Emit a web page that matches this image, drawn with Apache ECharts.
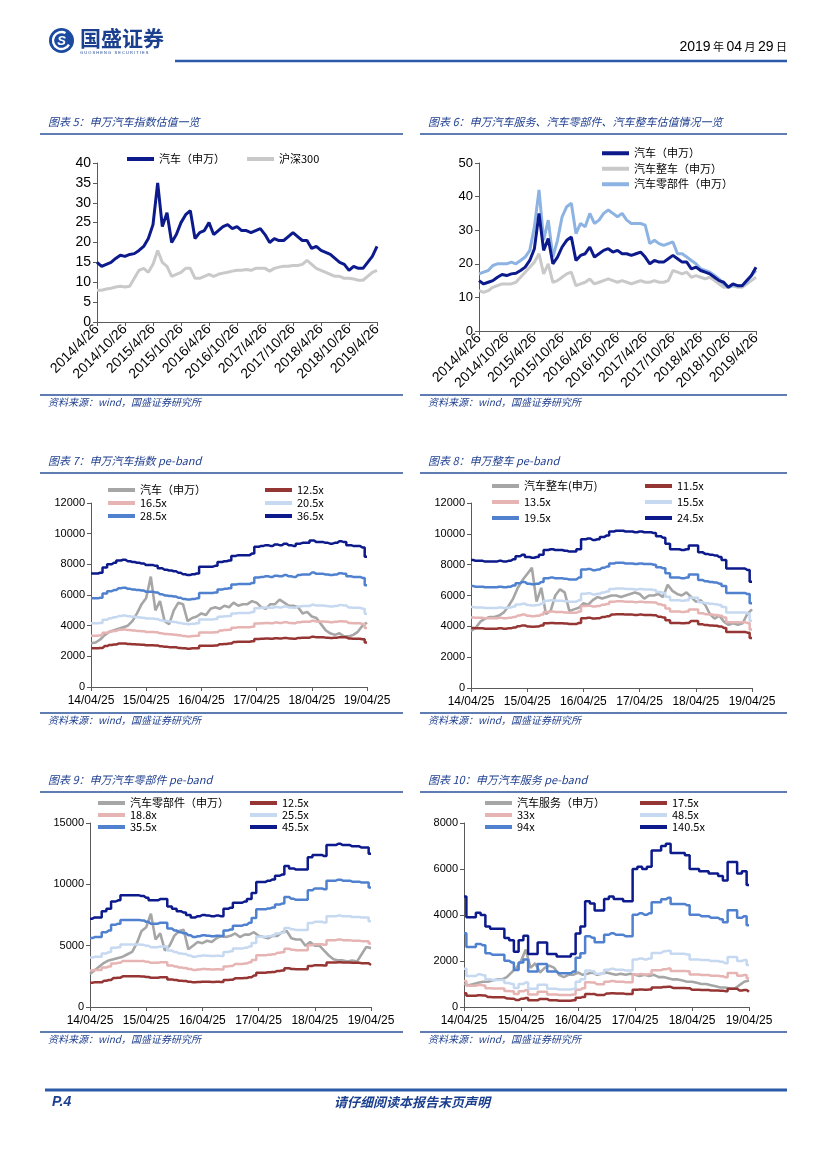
<!DOCTYPE html>
<html><head><meta charset="utf-8">
<script src="https://cdn.jsdelivr.net/npm/echarts@6/dist/echarts.min.js"></script>
<style>html,body{margin:0;padding:0;background:#fff}#c{width:827px;height:1169px}</style>
</head><body><div id="c"></div>
<script>
// ---------- categories (monthly, 2014/04 .. 2019/04) ----------
const monthsLong = [];
const monthsShort = [];
for (let i = 0; i < 61; i++) {
  const y = 2014 + Math.floor((3 + i) / 12), m = (3 + i) % 12 + 1;
  monthsLong.push(y + '/' + m + '/26');
  monthsShort.push(String(y).slice(2) + '/' + String(m).padStart(2, '0') + '/25');
}

// ---------- chart 5 / 6 : PE (TTM) ----------
const peAuto = [15,14,14.5,15,16,16.8,16.5,17,17.2,18, 19,21,24.5,35,24,27.5,20,22,25,27, 28,21,22.5,23,25,22,23,24,24.5,23.5, 24,23,23,22.5,23,23.5,22,20,21,20.5, 20.5,21.5,22.5,21.5,20.5,20.5,18.5,19,18,17.5, 17,16,15,14.5,13,14,13.5,13.5,15,16.5, 19];
const peHs300 = [8,8,8.3,8.5,8.8,9,8.8,9,11,13, 13.5,12.5,14.5,18,15,14,11.5,12,12.5,13.5, 13.5,11,11,11.5,12,11.5,12,12.3,12.5,12.8, 13,13,13.2,13,13.5,13.5,13.5,12.8,13.5,13.8, 14,14,14.2,14.2,14.5,15.5,14.5,13.5,13,12.5, 12,11.5,11.5,11,11,10.8,10.5,10.5,11.5,12.5, 13];
const peWhole = [12,11.5,12,13,13.5,14,14,14,14.5,16, 17.5,19,20.5,23,17,20,14.5,15,16,17, 17.5,13.5,14,14.5,15.5,14,14.5,15,15.5,15, 14.5,15,14.5,14,14.5,15,14.5,14.5,15,14.5, 14.5,15,18,17.5,17,17.5,16,16.5,16,15.5, 16,15,14,13,13,13.5,13,13,14,15, 16];
const peParts = [17,17.5,18,19.5,20,20,20,20.5,20,21, 22,24,31,42,27,33,22,27,34,37, 38,29,32,31,35,32,33,35,36,35, 34,35,33,32,32,32,31.5,26,27,26, 25.5,26,26.5,23,23,22,21,20,18.5,18, 17.5,16.5,15.5,14,13,13.5,13.5,13.5,14.5,16.5, 18];

// ---------- chart 7 : 申万汽车 pe-band ----------
const c7Index = [2850,2900,3100,3400,3600,3700,3800,3900,4000,4300, 4800,5400,5800,7200,5000,5600,4300,4100,5000,5500, 5400,4300,4500,4600,4800,4700,5100,5200,5100,5300, 5200,5500,5300,5400,5400,5600,5500,5200,5100,5400, 5400,5700,5500,5300,5300,5200,4800,4900,4600,4500, 4100,3700,3500,3400,3500,3300,3300,3400,3600,4000, 4200];
const c7B125 = [2530,2530,2550,2670,2740,2770,2830,2840,2810,2790, 2770,2760,2720,2720,2710,2650,2620,2600,2590,2550, 2520,2500,2520,2530,2690,2690,2690,2710,2790,2810, 2830,2930,2950,2950,2950,2980,3130,3150,3170,3150, 3180,3170,3200,3170,3150,3200,3220,3220,3270,3240, 3240,3220,3200,3220,3250,3240,3170,3150,3150,3120, 2910];
const c7B165 = [3350,3350,3370,3530,3620,3660,3730,3750,3710,3690, 3660,3640,3590,3590,3570,3500,3460,3440,3410,3370, 3320,3300,3320,3350,3550,3550,3550,3570,3690,3710, 3730,3870,3890,3890,3890,3930,4140,4160,4180,4160, 4200,4180,4230,4180,4160,4230,4250,4250,4320,4270, 4270,4250,4230,4250,4290,4270,4180,4160,4160,4110, 3840];
const c7B205 = [4160,4160,4180,4380,4490,4550,4630,4660,4610,4580, 4550,4520,4460,4460,4440,4350,4300,4270,4240,4180, 4130,4100,4130,4160,4410,4410,4410,4440,4580,4610, 4630,4800,4830,4830,4830,4890,5140,5170,5190,5170, 5220,5190,5250,5190,5170,5250,5280,5280,5360,5310, 5310,5280,5250,5280,5340,5310,5190,5170,5170,5110, 4770];
const c7B285 = [5780,5780,5820,6090,6250,6320,6440,6480,6400,6360, 6320,6290,6210,6210,6170,6050,5970,5930,5900,5820, 5740,5700,5740,5780,6130,6130,6130,6170,6360,6400, 6440,6680,6710,6710,6710,6790,7140,7180,7220,7180, 7260,7220,7300,7220,7180,7300,7340,7340,7460,7380, 7380,7340,7300,7340,7420,7380,7220,7180,7180,7110, 6640];
const c7B365 = [7400,7400,7450,7800,8000,8100,8250,8300,8200,8150, 8100,8050,7950,7950,7900,7750,7650,7600,7550,7450, 7350,7300,7350,7400,7850,7850,7850,7900,8150,8200, 8250,8550,8600,8600,8600,8700,9150,9200,9250,9200, 9300,9250,9350,9250,9200,9350,9400,9400,9550,9450, 9450,9400,9350,9400,9500,9450,9250,9200,9200,9100, 8500];

// ---------- chart 8 : 申万整车 pe-band ----------
const c8Index = [3700,3900,4300,4500,4600,4600,4700,4900,5300,5800, 6500,7000,7400,7800,5600,6500,4800,5000,6000,6400, 6200,5000,5100,5200,5500,5400,5700,5900,5800,5900, 6000,6000,5900,6000,6100,6200,6100,5800,6000,6000, 6100,5900,6700,6300,6100,6000,6200,5900,5600,5700, 5400,4800,4500,4700,4300,4100,4200,4100,4200,4800, 5100];
const c8B115 = [3900,3870,3870,3850,3850,3850,3870,3850,3870,3920, 4010,4060,3990,3970,3990,4060,4200,4220,4200,4200, 4180,4150,4150,4220,4530,4550,4510,4530,4600,4650, 4760,4790,4790,4760,4760,4740,4760,4740,4740,4720, 4620,4580,4390,4220,4220,4200,4220,4340,4340,4130, 4080,4060,4040,3990,3900,3640,3640,3640,3640,3590, 3240];
const c8B135 = [4570,4550,4550,4520,4520,4520,4550,4520,4550,4600, 4710,4770,4680,4660,4680,4770,4930,4960,4930,4930, 4900,4880,4880,4960,5320,5340,5290,5320,5400,5450, 5590,5620,5620,5590,5590,5570,5590,5570,5570,5540, 5430,5370,5150,4960,4960,4930,4960,5100,5100,4850, 4790,4770,4740,4680,4570,4270,4270,4270,4270,4220, 3800];
const c8B155 = [5250,5220,5220,5190,5190,5190,5220,5190,5220,5280, 5410,5470,5380,5350,5380,5470,5660,5690,5660,5660, 5630,5600,5600,5690,6110,6140,6070,6110,6200,6260, 6420,6450,6450,6420,6420,6390,6420,6390,6390,6360, 6230,6170,5920,5690,5690,5660,5690,5850,5850,5570, 5500,5470,5440,5380,5250,4900,4900,4900,4900,4840, 4370];
const c8B195 = [6610,6570,6570,6530,6530,6530,6570,6530,6570,6650, 6800,6880,6770,6730,6770,6880,7120,7160,7120,7120, 7080,7040,7040,7160,7680,7720,7640,7680,7800,7880, 8080,8120,8120,8080,8080,8040,8080,8040,8040,8000, 7840,7760,7440,7160,7160,7120,7160,7360,7360,7000, 6920,6880,6840,6770,6610,6170,6170,6170,6170,6090, 5490];
const c8B245 = [8300,8250,8250,8200,8200,8200,8250,8200,8250,8350, 8550,8650,8500,8450,8500,8650,8950,9000,8950,8950, 8900,8850,8850,9000,9650,9700,9600,9650,9800,9900, 10150,10200,10200,10150,10150,10100,10150,10100,10100,10050, 9850,9750,9350,9000,9000,8950,9000,9250,9250,8800, 8700,8650,8600,8500,8300,7750,7750,7750,7750,7650, 6900];

// ---------- chart 9 : 申万汽车零部件 pe-band ----------
const c9Index = [2700,3000,3300,3600,3800,3900,4000,4100,4300,4500, 5200,6200,6500,7600,5500,6000,4600,5000,5800,6200, 6300,4700,5000,5300,5200,5400,5300,5600,5800,5700, 5800,6000,5700,5900,5900,6100,5800,5700,5600,5800, 5800,6100,6200,5600,5500,5500,5000,5300,5000,5000, 4600,4200,3900,3800,3800,3700,3800,3700,4300,4900, 4800];
const c9B125 = [1980,2010,2010,2140,2200,2360,2390,2500,2500,2500, 2500,2490,2450,2390,2390,2420,2420,2250,2200,2140, 2120,2060,2010,2030,2060,2050,2030,2050,2030,2200, 2230,2340,2340,2360,2420,2560,2800,2800,2830,2860, 2940,2970,3160,3100,3080,3080,3080,3350,3410,3410, 3380,3630,3630,3650,3630,3630,3600,3600,3570,3570, 3430];
const c9B188 = [2980,3020,3020,3220,3310,3550,3600,3760,3760,3760, 3760,3740,3680,3600,3600,3640,3640,3390,3310,3220, 3180,3100,3020,3060,3100,3080,3060,3080,3060,3310, 3350,3510,3510,3550,3640,3840,4210,4210,4260,4300, 4420,4460,4750,4670,4630,4630,4630,5040,5120,5120, 5080,5450,5450,5500,5450,5450,5410,5410,5370,5370, 5170];
const c9B255 = [4030,4090,4090,4370,4480,4820,4880,5100,5100,5100, 5100,5070,4990,4880,4880,4930,4930,4600,4480,4370, 4320,4200,4090,4150,4200,4170,4150,4170,4150,4480, 4540,4760,4760,4820,4930,5210,5720,5720,5770,5830, 6000,6050,6440,6330,6280,6280,6280,6840,6950,6950, 6890,7400,7400,7450,7400,7400,7340,7340,7290,7290, 7000];
const c9B355 = [5620,5700,5700,6090,6240,6710,6790,7100,7100,7100, 7100,7060,6940,6790,6790,6870,6870,6400,6240,6090, 6010,5850,5700,5770,5850,5810,5770,5810,5770,6240, 6320,6630,6630,6710,6870,7260,7960,7960,8040,8110, 8350,8430,8970,8820,8740,8740,8740,9520,9670,9670, 9600,10300,10300,10380,10300,10300,10220,10220,10140,10140, 9750];
const c9B455 = [7200,7300,7300,7800,8000,8600,8700,9100,9100,9100, 9100,9050,8900,8700,8700,8800,8800,8200,8000,7800, 7700,7500,7300,7400,7500,7450,7400,7450,7400,8000, 8100,8500,8500,8600,8800,9300,10200,10200,10300,10400, 10700,10800,11500,11300,11200,11200,11200,12200,12400,12400, 12300,13200,13200,13300,13200,13200,13100,13100,13000,13000, 12500];

// ---------- chart 10 : 申万汽车服务 pe-band ----------
const c10Index = [1000,950,1000,1050,1100,1100,1150,1200,1200,1300, 1500,1700,2000,2500,1700,1900,1500,1700,1800,1700, 1400,1300,1400,1400,1500,1400,1450,1500,1400,1450, 1500,1450,1400,1450,1400,1450,1400,1350,1400,1350, 1400,1300,1300,1250,1200,1200,1150,1100,1100,1050, 1000,1000,950,900,850,850,800,800,950,1100, 1150];
const c10B175 = [600,490,490,510,500,440,420,420,420,370, 360,300,360,390,290,290,350,350,290,290, 270,270,270,290,400,440,570,560,520,520, 590,600,590,590,570,570,750,760,750,760, 850,850,870,880,830,830,830,820,750,750, 740,740,720,720,710,690,790,790,720,740, 660];
const c10B33 = [1130,920,920,960,940,820,800,800,800,700, 680,560,680,730,540,540,660,660,540,540, 520,520,520,540,750,820,1080,1060,990,990, 1100,1130,1100,1100,1080,1080,1410,1430,1410,1430, 1600,1600,1640,1670,1570,1570,1570,1550,1410,1410, 1390,1390,1360,1360,1340,1290,1480,1480,1360,1390, 1250];
const c10B485 = [1660,1350,1350,1420,1380,1210,1170,1170,1170,1040, 1000,830,1000,1070,790,790,970,970,790,790, 760,760,760,790,1100,1210,1590,1550,1450,1450, 1620,1660,1620,1620,1590,1590,2070,2110,2070,2110, 2350,2350,2420,2450,2310,2310,2310,2280,2070,2070, 2040,2040,2000,2000,1970,1900,2170,2170,2000,2040, 1830];
const c10B94 = [3210,2610,2610,2740,2680,2340,2270,2270,2270,2010, 1940,1610,1940,2070,1540,1540,1870,1870,1540,1540, 1470,1470,1470,1540,2140,2340,3080,3010,2810,2810, 3140,3210,3140,3140,3080,3080,4010,4080,4010,4080, 4550,4550,4680,4750,4480,4480,4480,4420,4010,4010, 3950,3950,3880,3880,3810,3680,4210,4210,3880,3950, 3550];
const c10B1405 = [4800,3900,3900,4100,4000,3500,3400,3400,3400,3000, 2900,2400,2900,3100,2300,2300,2800,2800,2300,2300, 2200,2200,2200,2300,3200,3500,4600,4500,4200,4200, 4700,4800,4700,4700,4600,4600,6000,6100,6000,6100, 6800,6800,7000,7100,6700,6700,6700,6600,6000,6000, 5900,5900,5800,5800,5700,5500,6300,6300,5800,5900, 5300];

// ---------- styling ----------
const LAT = '"Liberation Sans", Arial, sans-serif';
const CJK = '"Noto Sans CJK SC", "Noto Sans", sans-serif';
const NAVY = '#0c1a8c', GRAYL = '#c9c9c9', PARTS = '#8db3e2';
const IDX = '#a6a6a6', RED = '#963634', PINK = '#e6b4b3', LBLUE = '#c6d9f1', BLUE = '#4f81cf';
const AX = '#5a5a5a';

const chart = echarts.init(document.getElementById('c'), null, {renderer: 'canvas'});

const grids = [
  {left: 97, top: 163, width: 280, height: 159},
  {left: 479, top: 163, width: 277, height: 168},
  {left: 91, top: 503, width: 276, height: 184},
  {left: 471, top: 503, width: 281, height: 185},
  {left: 90, top: 823, width: 281, height: 184},
  {left: 464, top: 823, width: 285, height: 184}
];

function xa(gi, long) {
  return {
    type: 'category', gridIndex: gi, data: long ? monthsLong : monthsShort, boundaryGap: false,
    axisLine: {lineStyle: {color: AX, width: 1}},
    axisTick: {interval: long ? 5 : 11, length: 4, lineStyle: {color: AX}},
    axisLabel: {interval: long ? 5 : 11, rotate: long ? 45 : 0, fontSize: long ? 14 : 12,
      fontFamily: LAT, color: '#000', margin: long ? 5 : 8, hideOverlap: false, showMinLabel: true, showMaxLabel: true},
    splitLine: {show: false}
  };
}
function ya(gi, max, interval, fs) {
  return {
    type: 'value', gridIndex: gi, min: 0, max: max, interval: interval,
    axisLine: {show: true, lineStyle: {color: AX, width: 1}},
    axisTick: {show: true, length: 4, lineStyle: {color: AX}},
    axisLabel: {fontSize: fs, fontFamily: LAT, color: '#000', margin: 6, formatter: v => String(v)},
    splitLine: {show: false}
  };
}
function ln(name, data, color, gi, width, step) {
  return {
    type: 'line', name: name, data: data, xAxisIndex: gi, yAxisIndex: gi,
    showSymbol: false, symbol: 'none', step: step ? 'middle' : false,
    lineStyle: {color: color, width: width}, itemStyle: {color: color},
    emphasis: {disabled: true}, silent: true, animation: false
  };
}

const series = [
  ln('a|汽车（申万）', peAuto, NAVY, 0, 3),
  ln('a|沪深300', peHs300, GRAYL, 0, 3),
  ln('b|汽车整车（申万）', peWhole, GRAYL, 1, 3),
  ln('b|汽车零部件（申万）', peParts, PARTS, 1, 3),
  ln('b|汽车（申万）', peAuto, NAVY, 1, 3),

  ln('c|汽车（申万）', c7Index, IDX, 2, 2.6),
  ln('c|12.5x', c7B125, RED, 2, 2.5, true),
  ln('c|16.5x', c7B165, PINK, 2, 2.5, true),
  ln('c|20.5x', c7B205, LBLUE, 2, 2.5, true),
  ln('c|28.5x', c7B285, BLUE, 2, 2.5, true),
  ln('c|36.5x', c7B365, NAVY, 2, 2.5, true),

  ln('d|汽车整车(申万)', c8Index, IDX, 3, 2.6),
  ln('d|11.5x', c8B115, RED, 3, 2.5, true),
  ln('d|13.5x', c8B135, PINK, 3, 2.5, true),
  ln('d|15.5x', c8B155, LBLUE, 3, 2.5, true),
  ln('d|19.5x', c8B195, BLUE, 3, 2.5, true),
  ln('d|24.5x', c8B245, NAVY, 3, 2.5, true),

  ln('e|汽车零部件（申万）', c9Index, IDX, 4, 2.6),
  ln('e|12.5x', c9B125, RED, 4, 2.5, true),
  ln('e|18.8x', c9B188, PINK, 4, 2.5, true),
  ln('e|25.5x', c9B255, LBLUE, 4, 2.5, true),
  ln('e|35.5x', c9B355, BLUE, 4, 2.5, true),
  ln('e|45.5x', c9B455, NAVY, 4, 2.5, true),

  ln('f|汽车服务（申万）', c10Index, IDX, 5, 2.6),
  ln('f|17.5x', c10B175, RED, 5, 2.5, true),
  ln('f|33x', c10B33, PINK, 5, 2.5, true),
  ln('f|48.5x', c10B485, LBLUE, 5, 2.5, true),
  ln('f|94x', c10B94, BLUE, 5, 2.5, true),
  ln('f|140.5x', c10B1405, NAVY, 5, 2.5, true)
];

function lg(names, left, top, orient, lh, gap, ih) {
  return {
    data: names, left: left, top: top, orient: orient, padding: 0,
    itemWidth: 27, itemHeight: ih || 4, itemGap: gap, icon: 'rect', selectedMode: false,
    formatter: n => n.split('|')[1],
    textStyle: {fontSize: 11, fontFamily: CJK, color: '#000', lineHeight: lh}
  };
}
const legends = [
  lg(['a|汽车（申万）', 'a|沪深300'], 127, 152, 'horizontal', 14, 22),
  lg(['b|汽车（申万）', 'b|汽车整车（申万）', 'b|汽车零部件（申万）'], 602, 145.5, 'vertical', 15.5, 0),
  lg(['c|汽车（申万）', 'c|16.5x', 'c|28.5x'], 108, 483.5, 'vertical', 13, 0),
  lg(['c|12.5x', 'c|20.5x', 'c|36.5x'], 265, 483.5, 'vertical', 13, 0),
  lg(['d|汽车整车(申万)', 'd|13.5x', 'd|19.5x'], 492, 478, 'vertical', 16, 0),
  lg(['d|11.5x', 'd|15.5x', 'd|24.5x'], 645, 478, 'vertical', 16, 0),
  lg(['e|汽车零部件（申万）', 'e|18.8x', 'e|35.5x'], 98, 797, 'vertical', 12, 0),
  lg(['e|12.5x', 'e|25.5x', 'e|45.5x'], 250, 797, 'vertical', 12, 0),
  lg(['f|汽车服务（申万）', 'f|33x', 'f|94x'], 485, 797, 'vertical', 12, 0),
  lg(['f|17.5x', 'f|48.5x', 'f|140.5x'], 640, 797, 'vertical', 12, 0)
];

// ---------- page graphics ----------
const TB = '#1f3f8f';
function T(x, y, text, font, fill, align) {
  return {type: 'text', x: x, y: y, silent: true,
    style: {text: text, font: font, fill: fill || '#000', align: align || 'left', textAlign: align || 'left',
      verticalAlign: 'middle', textVerticalAlign: 'middle'}};
}
function L(x1, y1, x2, y2, stroke, w) {
  return {type: 'line', silent: true, shape: {x1: x1, y1: y1, x2: x2, y2: y2}, style: {stroke: stroke, lineWidth: w}};
}
const titleFont = 'italic 11px ' + CJK;
const srcFont = 'italic 10px ' + CJK;
const SRC = '资料来源：wind，国盛证券研究所';
const LINEC = '#2a5298';

const graphics = [
  // header
  {type: 'circle', silent: true, shape: {cx: 61.5, cy: 40.5, r: 12.5}, style: {fill: '#1b4aa0'}},
  {type: 'arc', silent: true, shape: {cx: 61.5, cy: 40.5, r: 8.5, startAngle: 0.5, endAngle: 5.2}, style: {fill: 'none', stroke: '#fff', lineWidth: 2.4}},
  T(61.5, 41, 'S', 'bold italic 13px ' + LAT, '#fff', 'center'),
  T(80, 38, '国盛证券', 'bold 21px ' + CJK, '#1b3f8f'),
  T(80, 53, 'G U O S H E N G   S E C U R I T I E S', '4px ' + LAT, '#1b3f8f'),
  L(175, 61, 787, 61, '#2b5aa8', 2.5),
  {type: 'text', x: 787, y: 47, silent: true, style: {
    text: '{n|2019}{c| 年 }{n|04}{c| 月 }{n|29}{c| 日}', align: 'right', textAlign: 'right',
    verticalAlign: 'middle', textVerticalAlign: 'middle',
    rich: {n: {fontSize: 14, fontFamily: LAT, fill: '#000'}, c: {fontSize: 11, fontFamily: CJK, fill: '#000'}}}},

  // row 1
  T(48, 122, '图表 5：申万汽车指数估值一览', titleFont, TB),
  L(40, 134, 403, 134, LINEC, 1.5),
  T(428, 122, '图表 6：申万汽车服务、汽车零部件、汽车整车估值情况一览', titleFont, TB),
  L(420, 134, 787, 134, LINEC, 1.5),
  L(40, 395, 403, 395, LINEC, 1.5),
  T(48, 402, SRC, srcFont, TB),
  L(420, 395, 787, 395, LINEC, 1.5),
  T(428, 402, SRC, srcFont, TB),

  // row 2
  T(48, 461, '图表 7：申万汽车指数 pe-band', titleFont, TB),
  L(40, 473, 403, 473, LINEC, 1.5),
  T(428, 461, '图表 8：申万整车 pe-band', titleFont, TB),
  L(420, 473, 787, 473, LINEC, 1.5),
  L(40, 713, 403, 713, LINEC, 1.5),
  T(48, 720, SRC, srcFont, TB),
  L(420, 713, 787, 713, LINEC, 1.5),
  T(428, 720, SRC, srcFont, TB),

  // row 3
  T(48, 780, '图表 9：申万汽车零部件 pe-band', titleFont, TB),
  L(40, 792, 403, 792, LINEC, 1.5),
  T(428, 780, '图表 10：申万汽车服务 pe-band', titleFont, TB),
  L(420, 792, 787, 792, LINEC, 1.5),
  L(40, 1032, 403, 1032, LINEC, 1.5),
  T(48, 1039, SRC, srcFont, TB),
  L(420, 1032, 787, 1032, LINEC, 1.5),
  T(428, 1039, SRC, srcFont, TB),

  // footer
  L(45, 1090, 787, 1090, '#2b5aa8', 3),
  T(52, 1102, 'P.4', 'bold italic 14px ' + LAT, '#1b3f8f'),
  T(412, 1102, '请仔细阅读本报告末页声明', 'bold italic 13px ' + CJK, '#1b3f8f', 'center')
];

chart.setOption({
  animation: false,
  backgroundColor: '#fff',
  grid: grids,
  xAxis: [xa(0, true), xa(1, true), xa(2, false), xa(3, false), xa(4, false), xa(5, false)],
  yAxis: [ya(0, 40, 5, 14), ya(1, 50, 10, 13), ya(2, 12000, 2000, 11), ya(3, 12000, 2000, 11), ya(4, 15000, 5000, 11), ya(5, 8000, 2000, 11)],
  legend: legends,
  series: series,
  graphic: graphics
});
</script>
</body></html>
